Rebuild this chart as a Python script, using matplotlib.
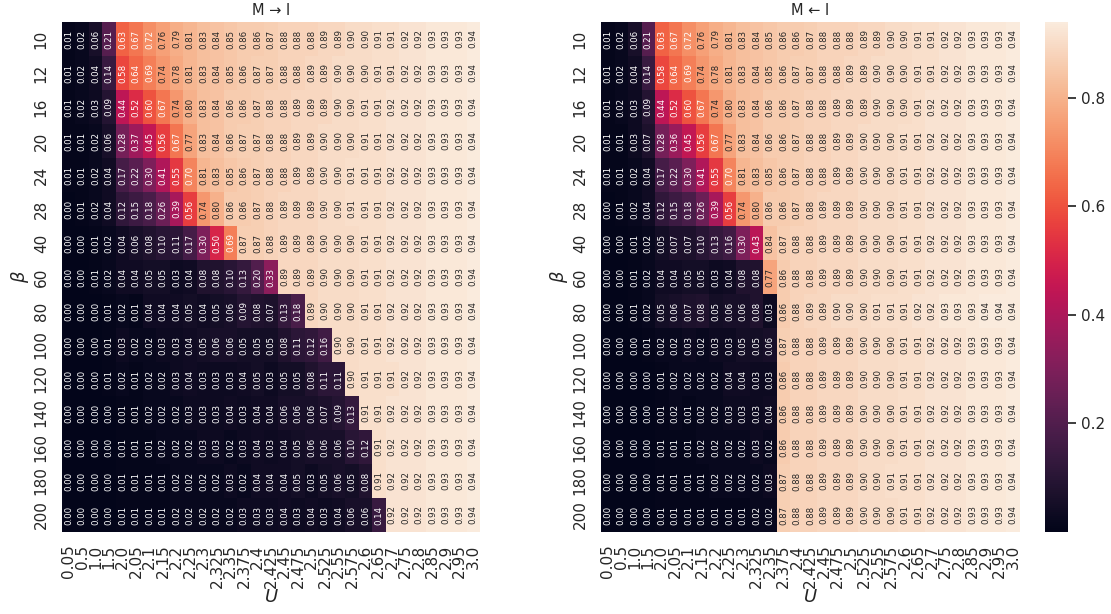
import numpy as np
import matplotlib
matplotlib.use("Agg")
import matplotlib.pyplot as plt
import seaborn as sns

sns.set_theme()

U_labels = ["0.05", "0.5", "1.0", "1.5", "2.0", "2.05", "2.1", "2.15", "2.2", "2.25",
            "2.3", "2.325", "2.35", "2.375", "2.4", "2.425", "2.45", "2.475", "2.5",
            "2.525", "2.55", "2.575", "2.6", "2.65", "2.7", "2.75", "2.8", "2.85",
            "2.9", "2.95", "3.0"]
beta_labels = ["10", "12", "16", "20", "24", "28", "40", "60", "80", "100",
               "120", "140", "160", "180", "200"]

# M -> I
fwd = [
    [0.01, 0.02, 0.06, 0.21, 0.63, 0.67, 0.72, 0.76, 0.79, 0.81, 0.83, 0.84, 0.85, 0.86, 0.86, 0.87, 0.88, 0.88, 0.88, 0.89, 0.89, 0.90, 0.90, 0.91, 0.91, 0.92, 0.92, 0.93, 0.93, 0.93, 0.94],
    [0.01, 0.02, 0.04, 0.14, 0.58, 0.64, 0.69, 0.74, 0.78, 0.81, 0.83, 0.84, 0.85, 0.86, 0.87, 0.87, 0.88, 0.88, 0.89, 0.89, 0.90, 0.90, 0.90, 0.91, 0.91, 0.92, 0.92, 0.93, 0.93, 0.93, 0.94],
    [0.01, 0.02, 0.03, 0.09, 0.44, 0.52, 0.60, 0.67, 0.74, 0.80, 0.83, 0.84, 0.86, 0.86, 0.87, 0.88, 0.88, 0.89, 0.89, 0.89, 0.90, 0.90, 0.91, 0.91, 0.92, 0.92, 0.92, 0.93, 0.93, 0.93, 0.94],
    [0.01, 0.01, 0.02, 0.06, 0.28, 0.37, 0.45, 0.56, 0.67, 0.77, 0.83, 0.84, 0.86, 0.87, 0.87, 0.88, 0.88, 0.89, 0.89, 0.90, 0.90, 0.90, 0.91, 0.91, 0.92, 0.92, 0.92, 0.93, 0.93, 0.93, 0.94],
    [0.01, 0.01, 0.02, 0.04, 0.17, 0.22, 0.30, 0.41, 0.55, 0.70, 0.81, 0.83, 0.85, 0.86, 0.87, 0.88, 0.88, 0.89, 0.89, 0.90, 0.90, 0.91, 0.91, 0.91, 0.92, 0.92, 0.92, 0.93, 0.93, 0.93, 0.94],
    [0.00, 0.01, 0.02, 0.04, 0.12, 0.15, 0.18, 0.26, 0.39, 0.56, 0.74, 0.80, 0.86, 0.86, 0.87, 0.88, 0.89, 0.89, 0.89, 0.90, 0.90, 0.91, 0.91, 0.91, 0.92, 0.92, 0.92, 0.93, 0.93, 0.93, 0.94],
    [0.00, 0.00, 0.01, 0.02, 0.04, 0.06, 0.08, 0.10, 0.11, 0.17, 0.30, 0.50, 0.69, 0.87, 0.87, 0.88, 0.89, 0.89, 0.89, 0.90, 0.90, 0.90, 0.91, 0.91, 0.92, 0.92, 0.92, 0.93, 0.93, 0.93, 0.94],
    [0.00, 0.00, 0.01, 0.02, 0.04, 0.04, 0.05, 0.05, 0.03, 0.04, 0.08, 0.08, 0.10, 0.13, 0.20, 0.33, 0.89, 0.89, 0.89, 0.90, 0.90, 0.90, 0.91, 0.91, 0.92, 0.92, 0.92, 0.93, 0.93, 0.93, 0.94],
    [0.00, 0.00, 0.00, 0.01, 0.02, 0.01, 0.04, 0.04, 0.04, 0.05, 0.04, 0.05, 0.06, 0.09, 0.08, 0.07, 0.13, 0.18, 0.89, 0.90, 0.90, 0.90, 0.91, 0.91, 0.92, 0.92, 0.92, 0.93, 0.93, 0.93, 0.94],
    [0.00, 0.00, 0.00, 0.01, 0.03, 0.02, 0.02, 0.03, 0.03, 0.04, 0.05, 0.06, 0.06, 0.05, 0.05, 0.05, 0.08, 0.11, 0.12, 0.16, 0.90, 0.90, 0.91, 0.91, 0.92, 0.92, 0.92, 0.93, 0.93, 0.93, 0.94],
    [0.00, 0.00, 0.00, 0.01, 0.02, 0.01, 0.02, 0.02, 0.03, 0.04, 0.03, 0.03, 0.03, 0.04, 0.05, 0.03, 0.05, 0.05, 0.08, 0.11, 0.11, 0.90, 0.91, 0.91, 0.91, 0.92, 0.92, 0.93, 0.93, 0.93, 0.94],
    [0.00, 0.00, 0.00, 0.00, 0.01, 0.01, 0.02, 0.02, 0.02, 0.03, 0.03, 0.03, 0.04, 0.03, 0.04, 0.04, 0.06, 0.06, 0.06, 0.07, 0.09, 0.13, 0.91, 0.91, 0.92, 0.92, 0.92, 0.93, 0.93, 0.93, 0.94],
    [0.00, 0.00, 0.00, 0.00, 0.01, 0.01, 0.01, 0.02, 0.02, 0.02, 0.03, 0.03, 0.02, 0.03, 0.04, 0.03, 0.04, 0.05, 0.06, 0.06, 0.06, 0.10, 0.12, 0.91, 0.92, 0.92, 0.92, 0.93, 0.93, 0.93, 0.94],
    [0.00, 0.00, 0.00, 0.00, 0.01, 0.01, 0.01, 0.01, 0.02, 0.02, 0.02, 0.02, 0.03, 0.02, 0.04, 0.04, 0.04, 0.05, 0.03, 0.05, 0.06, 0.05, 0.08, 0.91, 0.92, 0.92, 0.92, 0.93, 0.93, 0.93, 0.94],
    [0.00, 0.00, 0.00, 0.00, 0.01, 0.01, 0.01, 0.01, 0.02, 0.02, 0.02, 0.02, 0.02, 0.03, 0.03, 0.03, 0.04, 0.03, 0.04, 0.03, 0.04, 0.06, 0.06, 0.14, 0.92, 0.92, 0.92, 0.93, 0.93, 0.93, 0.94],
]

# M <- I
bwd = [
    [0.01, 0.02, 0.06, 0.21, 0.63, 0.67, 0.72, 0.76, 0.79, 0.81, 0.83, 0.84, 0.85, 0.86, 0.86, 0.87, 0.88, 0.88, 0.88, 0.89, 0.89, 0.90, 0.90, 0.91, 0.91, 0.92, 0.92, 0.93, 0.93, 0.93, 0.94],
    [0.01, 0.02, 0.04, 0.14, 0.58, 0.64, 0.69, 0.74, 0.78, 0.81, 0.83, 0.84, 0.85, 0.86, 0.87, 0.87, 0.88, 0.88, 0.89, 0.89, 0.90, 0.90, 0.90, 0.91, 0.91, 0.92, 0.92, 0.93, 0.93, 0.93, 0.94],
    [0.01, 0.02, 0.03, 0.09, 0.44, 0.52, 0.60, 0.67, 0.74, 0.80, 0.83, 0.84, 0.86, 0.86, 0.87, 0.88, 0.88, 0.89, 0.89, 0.89, 0.90, 0.90, 0.90, 0.91, 0.92, 0.92, 0.92, 0.93, 0.93, 0.93, 0.94],
    [0.01, 0.01, 0.03, 0.07, 0.28, 0.36, 0.45, 0.56, 0.67, 0.77, 0.83, 0.84, 0.86, 0.86, 0.87, 0.88, 0.88, 0.89, 0.89, 0.90, 0.90, 0.90, 0.91, 0.91, 0.92, 0.92, 0.92, 0.93, 0.93, 0.93, 0.94],
    [0.01, 0.01, 0.02, 0.04, 0.17, 0.22, 0.30, 0.41, 0.55, 0.70, 0.81, 0.83, 0.85, 0.86, 0.87, 0.88, 0.88, 0.89, 0.89, 0.90, 0.90, 0.90, 0.91, 0.91, 0.92, 0.92, 0.92, 0.93, 0.93, 0.93, 0.94],
    [0.00, 0.01, 0.02, 0.04, 0.12, 0.15, 0.18, 0.26, 0.39, 0.56, 0.74, 0.80, 0.86, 0.86, 0.87, 0.88, 0.89, 0.89, 0.89, 0.90, 0.90, 0.90, 0.91, 0.91, 0.92, 0.92, 0.92, 0.93, 0.93, 0.93, 0.94],
    [0.00, 0.00, 0.01, 0.02, 0.05, 0.07, 0.07, 0.10, 0.13, 0.16, 0.30, 0.43, 0.84, 0.87, 0.88, 0.88, 0.89, 0.89, 0.89, 0.90, 0.90, 0.90, 0.91, 0.91, 0.92, 0.92, 0.92, 0.93, 0.93, 0.93, 0.94],
    [0.00, 0.00, 0.01, 0.02, 0.04, 0.04, 0.05, 0.05, 0.03, 0.04, 0.08, 0.08, 0.77, 0.86, 0.88, 0.88, 0.89, 0.89, 0.89, 0.90, 0.90, 0.90, 0.91, 0.91, 0.92, 0.92, 0.92, 0.93, 0.93, 0.93, 0.94],
    [0.00, 0.00, 0.01, 0.02, 0.05, 0.06, 0.07, 0.08, 0.05, 0.06, 0.06, 0.08, 0.03, 0.86, 0.88, 0.89, 0.89, 0.90, 0.90, 0.90, 0.91, 0.91, 0.91, 0.92, 0.92, 0.93, 0.93, 0.93, 0.94, 0.94, 0.94],
    [0.00, 0.00, 0.00, 0.01, 0.02, 0.02, 0.03, 0.02, 0.03, 0.03, 0.05, 0.05, 0.06, 0.87, 0.88, 0.88, 0.89, 0.89, 0.89, 0.90, 0.90, 0.90, 0.91, 0.91, 0.92, 0.92, 0.92, 0.93, 0.93, 0.93, 0.94],
    [0.00, 0.00, 0.00, 0.00, 0.01, 0.02, 0.02, 0.02, 0.02, 0.04, 0.04, 0.03, 0.03, 0.86, 0.88, 0.88, 0.89, 0.89, 0.89, 0.90, 0.90, 0.90, 0.91, 0.91, 0.92, 0.92, 0.92, 0.93, 0.93, 0.93, 0.94],
    [0.00, 0.00, 0.00, 0.00, 0.01, 0.02, 0.01, 0.02, 0.02, 0.03, 0.03, 0.03, 0.04, 0.86, 0.88, 0.88, 0.89, 0.89, 0.89, 0.90, 0.90, 0.90, 0.91, 0.91, 0.92, 0.92, 0.92, 0.93, 0.93, 0.93, 0.94],
    [0.00, 0.00, 0.00, 0.00, 0.01, 0.01, 0.01, 0.02, 0.02, 0.02, 0.02, 0.03, 0.02, 0.86, 0.88, 0.88, 0.89, 0.89, 0.89, 0.90, 0.90, 0.90, 0.91, 0.91, 0.92, 0.92, 0.92, 0.93, 0.93, 0.93, 0.94],
    [0.00, 0.00, 0.00, 0.00, 0.01, 0.01, 0.01, 0.01, 0.02, 0.02, 0.02, 0.02, 0.03, 0.87, 0.88, 0.88, 0.89, 0.89, 0.89, 0.90, 0.90, 0.91, 0.91, 0.91, 0.92, 0.92, 0.92, 0.93, 0.93, 0.93, 0.94],
    [0.00, 0.00, 0.00, 0.00, 0.01, 0.01, 0.01, 0.01, 0.01, 0.01, 0.01, 0.02, 0.02, 0.87, 0.88, 0.88, 0.89, 0.89, 0.89, 0.90, 0.90, 0.90, 0.91, 0.91, 0.92, 0.92, 0.92, 0.93, 0.93, 0.93, 0.94],
]

fwd = np.array(fwd)
bwd = np.array(bwd)
vmin = min(fwd.min(), bwd.min())
vmax = max(fwd.max(), bwd.max())

W, H = 1111, 614
fig = plt.figure(figsize=(W / 100, H / 100), dpi=100)
ax1 = fig.add_axes([62 / W, (H - 532) / H, 418 / W, 510 / H])
ax2 = fig.add_axes([601 / W, (H - 532) / H, 419 / W, 510 / H])
cax = fig.add_axes([1045 / W, (H - 532) / H, 23 / W, 510 / H])

annot_kws = {"rotation": 90, "fontsize": 6.2}

sns.heatmap(fwd, ax=ax1, annot=True, fmt=".2f", annot_kws=annot_kws,
            xticklabels=U_labels, yticklabels=beta_labels,
            vmin=vmin, vmax=vmax, cbar=False)
sns.heatmap(bwd, ax=ax2, annot=True, fmt=".2f", annot_kws=annot_kws,
            xticklabels=U_labels, yticklabels=beta_labels,
            vmin=vmin, vmax=vmax, cbar_ax=cax)

for ax, title in [(ax1, "M → I"), (ax2, "M ← I")]:
    ax.set_title(title, fontsize=10.5, pad=5)
    ax.set_xlabel("$U$", fontsize=13, labelpad=0)
    ax.set_ylabel("$\\beta$", fontsize=13, labelpad=2)
    ax.tick_params(axis="both", labelsize=11)
    ax.tick_params(axis="x", pad=3)
    plt.setp(ax.get_xticklabels(), rotation=90)
    plt.setp(ax.get_yticklabels(), rotation=90, va="center")

cax.set_yticks([0.2, 0.4, 0.6, 0.8])
cax.tick_params(labelsize=11)

fig.savefig("out.png", dpi=100)
